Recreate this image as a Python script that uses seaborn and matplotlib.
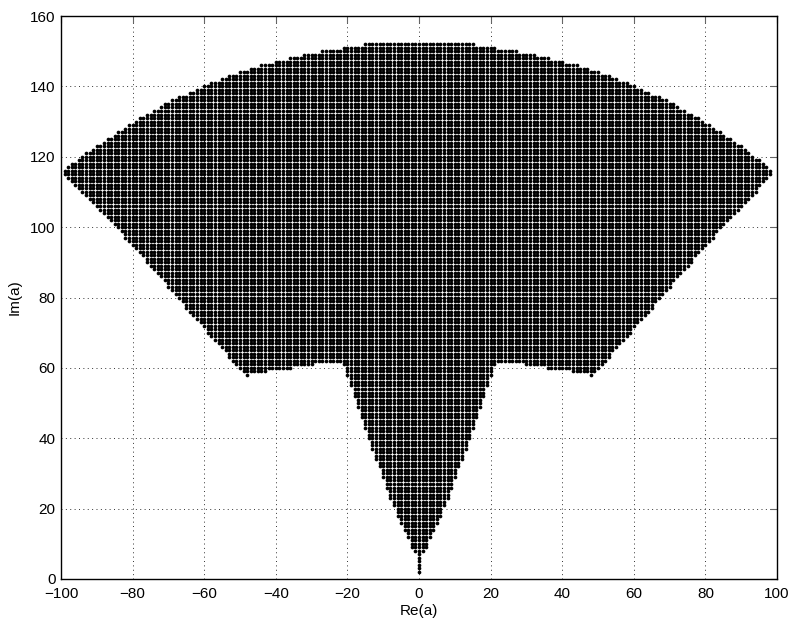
import numpy as np
import pandas as pd
import matplotlib
matplotlib.use("Agg")
import matplotlib.pyplot as plt
from matplotlib.path import Path
import seaborn as sns

# Outline of the region of lattice points a = x + i*y,
# traced around starting at the bottom of the stem.
outline_x = [0.5, -0.5, -0.5, -1.5, -7.4, -14.4, -19.4, -21.4,
             -29.5, -29.5, -35.5, -35.5, -42.5, -42.5, -47.5, -47.5, -48.5, -48.5, -49.4,
             -84.6, -99.4, -99.4,
             -90, -80, -70, -60, -50, -40, -30, -20, -13.5, 0,
             13.5, 20, 30, 40, 50, 60, 70, 80, 90,
             98.4, 98.4, 84.6,
             49.4, 48.5, 48.5, 47.5, 47.5, 42.5, 42.5, 35.5, 35.5, 29.5, 29.5,
             21.4, 19.4, 14.4, 7.4, 1.5, 0.5]
outline_y = [1.5, 1.5, 7.6, 7.6, 21.0, 40.5, 55.5, 61.6,
             61.6, 60.6, 60.6, 59.6, 59.6, 58.6, 58.6, 57.6, 57.6, 58.6, 58.6,
             100.0, 114.6, 116.4,
             123.2, 129.9, 135.6, 140.3, 144.2, 147.3, 149.6, 151.3, 152.4, 152.4,
             152.4, 151.3, 149.6, 147.3, 144.2, 140.3, 135.6, 129.9, 123.2,
             116.4, 114.6, 100.0,
             58.6, 58.6, 57.6, 57.6, 58.6, 58.6, 59.6, 59.6, 60.6, 60.6, 61.6,
             61.6, 55.5, 40.5, 21.0, 7.6, 7.6]

grid_re = np.arange(-100, 101)
grid_im = np.arange(0, 161)

RE, IM = np.meshgrid(grid_re, grid_im)
pts = np.column_stack([RE.ravel(), IM.ravel()])
poly = Path(np.column_stack([outline_x, outline_y]))
inside = poly.contains_points(pts)
df = pd.DataFrame({"Re": pts[inside, 0], "Im": pts[inside, 1]})

sns.set_style("white")
plt.rcParams["font.family"] = ["Liberation Sans", "DejaVu Sans"]
plt.rcParams["text.color"] = "black"
plt.rcParams["axes.labelcolor"] = "black"
plt.rcParams["xtick.color"] = "black"
plt.rcParams["ytick.color"] = "black"

fig = plt.figure(figsize=(7.92, 6.21), dpi=100)
ax = fig.add_axes([61 / 792, 1 - 579 / 621, (777 - 61) / 792, (579 - 16) / 621])

sns.scatterplot(data=df, x="Re", y="Im", ax=ax, color="black", s=7,
                linewidth=0, marker="o", zorder=3)

ax.set_xlim(-100, 100)
ax.set_ylim(0, 160)
ax.set_xticks(np.arange(-100, 101, 20))
ax.set_yticks(np.arange(0, 161, 20))
ax.set_xticklabels([("\u2212" + str(-v)) if v < 0 else str(v) for v in range(-100, 101, 20)])
ax.grid(True, color="#333333", linestyle=(0, (1, 3.5)), linewidth=0.7, zorder=0)
ax.set_axisbelow(True)
ax.tick_params(direction="in", length=5, width=0.8, top=True, right=True,
               labelsize=11, labelcolor="black", color="#666666")
ax.tick_params(axis="x", pad=6)
ax.tick_params(axis="y", pad=4)
for sp in ax.spines.values():
    sp.set_visible(True)
    sp.set_color("black")
    sp.set_linewidth(1.0)
ax.set_xlabel("Re(a)", fontsize=11, labelpad=2)
ax.set_ylabel("Im(a)", fontsize=11, labelpad=6)

fig.savefig("out.png", dpi=100, facecolor="white")
